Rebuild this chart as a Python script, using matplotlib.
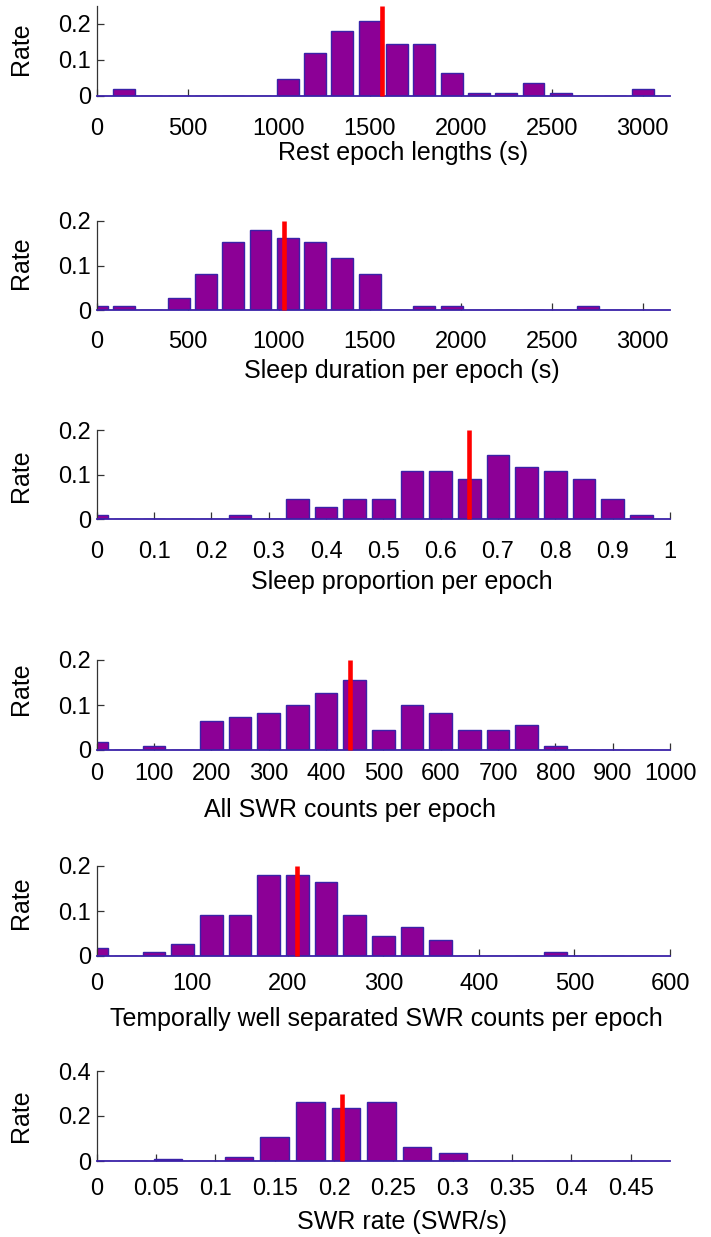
import matplotlib.pyplot as plt

plt.rcParams['font.family'] = ['Liberation Sans', 'DejaVu Sans']

# ---------------------------
# Data (histogram bin centres and rates, plus the red median marker)
# ---------------------------
rest_centers = [150, 300, 450, 600, 750, 900, 1050, 1200, 1350, 1500,
                1650, 1800, 1950, 2100, 2250, 2400, 2550, 2700, 2850, 3000]
rest_rate = [0.019, 0, 0, 0, 0, 0, 0.046, 0.119, 0.181, 0.208,
             0.145, 0.145, 0.064, 0.009, 0.009, 0.037, 0.009, 0, 0, 0.019]
rest_median = 1565
rest_marker_top = 0.25
rest_xticks = [0, 500, 1000, 1500, 2000, 2500, 3000]
rest_xticklabels = ["0", "500", "1000", "1500", "2000", "2500", "3000"]

sleep_centers = [0, 150, 300, 450, 600, 750, 900, 1050, 1200, 1350,
                 1500, 1650, 1800, 1950, 2100, 2250, 2400, 2550, 2700, 2850]
sleep_rate = [0.009, 0.009, 0, 0.027, 0.081, 0.153, 0.18, 0.162, 0.153, 0.117,
              0.081, 0, 0.009, 0.009, 0, 0, 0, 0, 0.009, 0]
sleep_median = 1027
sleep_marker_top = 0.2
sleep_xticks = [0, 500, 1000, 1500, 2000, 2500, 3000]
sleep_xticklabels = ["0", "500", "1000", "1500", "2000", "2500", "3000"]

prop_centers = [0, 0.05, 0.1, 0.15, 0.2, 0.25, 0.3, 0.35, 0.4, 0.45,
                0.5, 0.55, 0.6, 0.65, 0.7, 0.75, 0.8, 0.85, 0.9, 0.95]
prop_rate = [0.01, 0, 0, 0, 0, 0.01, 0, 0.045, 0.027, 0.045,
             0.045, 0.109, 0.109, 0.091, 0.145, 0.118, 0.109, 0.091, 0.045, 0.01]
prop_median = 0.65
prop_marker_top = 0.2
prop_xticks = [0, 0.1, 0.2, 0.3, 0.4, 0.5, 0.6, 0.7, 0.8, 0.9, 1]
prop_xticklabels = ["0", "0.1", "0.2", "0.3", "0.4", "0.5", "0.6", "0.7", "0.8", "0.9", "1"]

all_centers = [0, 50, 100, 150, 200, 250, 300, 350, 400, 450,
               500, 550, 600, 650, 700, 750, 800, 850, 900, 950]
all_rate = [0.018, 0, 0.009, 0, 0.064, 0.073, 0.082, 0.1, 0.127, 0.155,
            0.045, 0.1, 0.082, 0.045, 0.045, 0.055, 0.009, 0, 0, 0]
all_median = 442
all_marker_top = 0.2
all_xticks = [0, 100, 200, 300, 400, 500, 600, 700, 800, 900, 1000]
all_xticklabels = ["0", "100", "200", "300", "400", "500", "600", "700", "800", "900", "1000"]

sep_centers = [0, 30, 60, 90, 120, 150, 180, 210, 240, 270,
               300, 330, 360, 390, 420, 450, 480, 510, 540, 570]
sep_rate = [0.018, 0, 0.009, 0.027, 0.091, 0.091, 0.18, 0.18, 0.164, 0.091,
            0.045, 0.064, 0.036, 0, 0, 0, 0.009, 0, 0, 0]
sep_median = 210
sep_marker_top = 0.2
sep_xticks = [0, 100, 200, 300, 400, 500, 600]
sep_xticklabels = ["0", "100", "200", "300", "400", "500", "600"]

swr_centers = [0, 0.03, 0.06, 0.09, 0.12, 0.15, 0.18, 0.21,
               0.24, 0.27, 0.3, 0.33, 0.36, 0.39, 0.42, 0.45]
swr_rate = [0, 0, 0.009, 0, 0.018, 0.108, 0.264, 0.236,
            0.264, 0.064, 0.036, 0, 0, 0, 0, 0]
swr_median = 0.207
swr_marker_top = 0.3
swr_xticks = [0, 0.05, 0.1, 0.15, 0.2, 0.25, 0.3, 0.35, 0.4, 0.45]
swr_xticklabels = ["0", "0.05", "0.1", "0.15", "0.2", "0.25", "0.3", "0.35", "0.4", "0.45"]

rate_ticks_small = [0, 0.1, 0.2]
rate_ticklabels_small = ["0", "0.1", "0.2"]
rate_ticks_big = [0, 0.2, 0.4]
rate_ticklabels_big = ["0", "0.2", "0.4"]

xlabels = ["Rest epoch lengths (s)", "Sleep duration per epoch (s)",
           "Sleep proportion per epoch", "All SWR counts per epoch",
           "Temporally well separated SWR counts per epoch", "SWR rate (SWR/s)"]

# ---------------------------
# Layout (pixels in a 711 x 1237 figure)
# ---------------------------
W, H = 711, 1237
AX_LEFT, AX_RIGHT = 96.7, 670
panels = [
    # centers, rate, median, marker top, bar width, xlim, ylim, xticks, xticklabels,
    # yticks, yticklabels, baseline px, height px, tick pad, xlabel x, xlabel offset, ylabel y
    (rest_centers, rest_rate, rest_median, rest_marker_top, 120, 3150, 0.25,
     rest_xticks, rest_xticklabels, rate_ticks_small, rate_ticklabels_small,
     96, 90, 16, 0.534, 57, 0.53),
    (sleep_centers, sleep_rate, sleep_median, sleep_marker_top, 120, 3150, 0.2,
     sleep_xticks, sleep_xticklabels, rate_ticks_small, rate_ticklabels_small,
     310.5, 89.5, 15, 0.532, 61, 0.53),
    (prop_centers, prop_rate, prop_median, prop_marker_top, 0.04, 1, 0.2,
     prop_xticks, prop_xticklabels, rate_ticks_small, rate_ticklabels_small,
     519.3, 89.3, 15.3, 0.532, 62.5, 0.49),
    (all_centers, all_rate, all_median, all_marker_top, 40, 1000, 0.2,
     all_xticks, all_xticklabels, rate_ticks_small, rate_ticklabels_small,
     750, 90, 9.5, 0.441, 60.5, 0.68),
    (sep_centers, sep_rate, sep_median, sep_marker_top, 24, 600, 0.2,
     sep_xticks, sep_xticklabels, rate_ticks_small, rate_ticklabels_small,
     956, 90, 12.4, 0.506, 63, 0.59),
    (swr_centers, swr_rate, swr_median, swr_marker_top, 0.024, 0.483, 0.4,
     swr_xticks, swr_xticklabels, rate_ticks_big, rate_ticklabels_big,
     1161, 90, 12.4, 0.533, 61, 0.50),
]

bar_color = "#8c0096"
edge_color = "#3a22a8"
axis_color = "#333333"

fig = plt.figure(figsize=(W / 100, H / 100), dpi=100)

for i, p in enumerate(panels):
    (centers, rate, median, top, width, xmax, ymax, xticks, xtl, yticks, ytl,
     base_px, h_px, pad, xl_x, xl_off, yl_y) = p
    ax = fig.add_axes([AX_LEFT / W, 1 - base_px / H, (AX_RIGHT - AX_LEFT) / W, h_px / H])
    ax.set_axisbelow(True)
    ax.bar(centers, rate, width=width, color=bar_color, edgecolor=edge_color,
           linewidth=1.0, zorder=2)
    ax.plot([median, median], [0, top], color="#ff0000", linewidth=3.3,
            solid_capstyle="butt", zorder=3, clip_on=False)
    ax.set_xlim(0, xmax)
    ax.set_ylim(0, ymax)
    ax.set_xticks(xticks)
    ax.set_xticklabels(xtl)
    ax.set_yticks(yticks)
    ax.set_yticklabels(ytl)
    for side in ["top", "right"]:
        ax.spines[side].set_visible(False)
    ax.spines["left"].set_color(axis_color)
    ax.spines["left"].set_linewidth(0.9)
    ax.spines["bottom"].set_color(edge_color)
    ax.spines["bottom"].set_linewidth(1.3)
    ax.tick_params(direction="in", length=5, width=0.9, color=axis_color,
                   labelsize=17, labelcolor="black")
    ax.tick_params(axis="x", pad=pad)
    ax.tick_params(axis="y", pad=4)
    ax.set_xlabel(xlabels[i], fontsize=18)
    ax.xaxis.label.set_va("center")
    ax.xaxis.set_label_coords(xl_x, -xl_off / h_px)
    ax.set_ylabel("Rate", fontsize=18)
    ax.yaxis.label.set_va("center")
    ax.yaxis.set_label_coords(-(AX_LEFT - 21) / (AX_RIGHT - AX_LEFT), yl_y)

fig.savefig("out.png", dpi=100)
